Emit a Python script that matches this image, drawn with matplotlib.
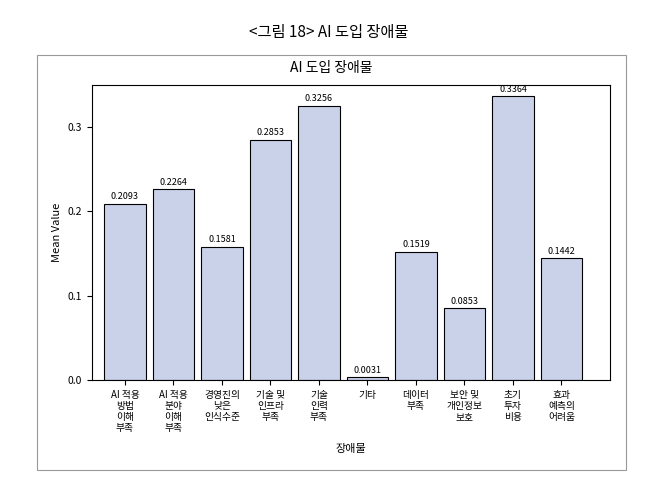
import matplotlib
matplotlib.use("Agg")
import matplotlib.pyplot as plt
from matplotlib.patches import Rectangle

categories = ["AI 적용\n방법\n이해\n부족", "AI 적용\n분야\n이해\n부족", "경영진의\n낮은\n인식수준",
              "기술 및\n인프라\n부족", "기술\n인력\n부족", "기타", "데이터\n부족",
              "보안 및\n개인정보\n보호", "초기\n투자\n비용", "효과\n예측의\n어려움"]
values = [0.2093, 0.2264, 0.1581, 0.2853, 0.3256, 0.0031, 0.1519, 0.0853, 0.3364, 0.1442]
yticks = [0.0, 0.1, 0.2, 0.3]

plt.rcParams["font.family"] = ["Noto Sans CJK KR", "Noto Sans CJK JP", "Noto Sans CJK SC",
                               "Noto Sans CJK TC", "DejaVu Sans"]
W, H = 658, 499
fig = plt.figure(figsize=(W/100, H/100), dpi=100)
fig.patches.append(Rectangle((37/W, 1-470/H), 589/W, 415/H, transform=fig.transFigure,
                             fill=False, edgecolor="#999999", lw=0.8))
fig.text(0.5, 1-32/H, "<그림 18> AI 도입 장애물", ha="center", va="center", fontsize=11)
fig.text(331/W, 1-68/H, "AI 도입 장애물", ha="center", va="center", fontsize=10)

ax = fig.add_axes([92/W, 1-380/H, 518/W, 295/H])
x = list(range(len(values)))
ax.bar(x, values, width=0.86, color="#CAD2EA", edgecolor="black", lw=0.8)
for xi, v in zip(x, values):
    ax.text(xi, v + 0.003, f"{v:.4f}", ha="center", va="bottom", fontsize=6.5)
ax.set_xlim(-0.68, 10.0)
ax.set_ylim(0, 0.35)
ax.set_yticks(yticks)
ax.set_yticklabels([f"{t:.1f}" for t in yticks], fontsize=7.5)
ax.set_xticks(x)
ax.set_xticklabels(categories, fontsize=7, linespacing=1.15)
ax.set_ylabel("Mean Value", fontsize=8)
ax.set_xlabel("장애물", fontsize=8, labelpad=8)
fig.savefig("out.png", dpi=100)
